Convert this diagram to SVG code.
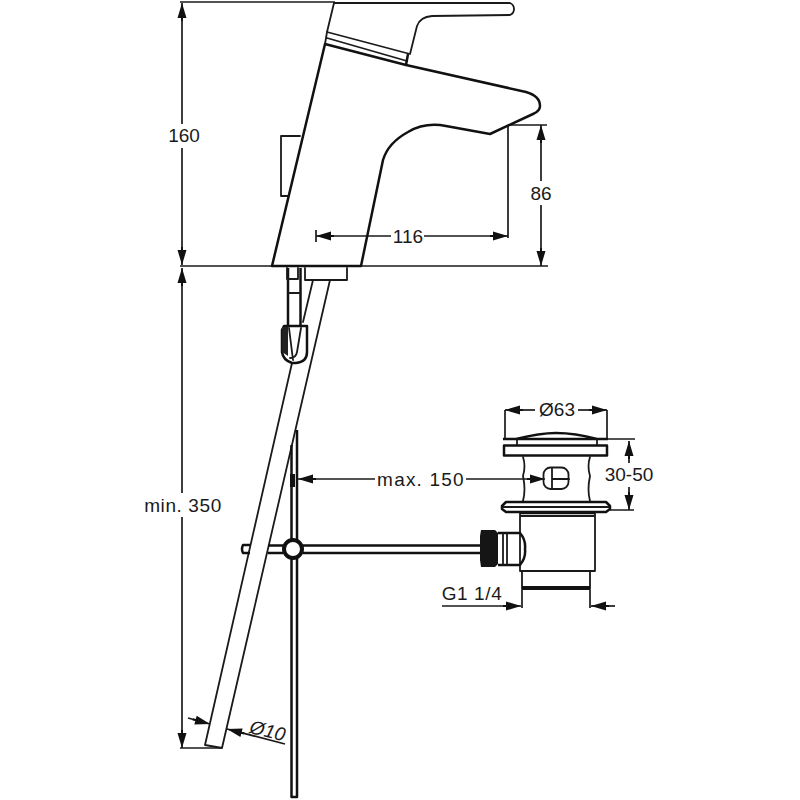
<svg xmlns="http://www.w3.org/2000/svg" width="800" height="800" viewBox="0 0 800 800">
<defs>
<style>
.l{fill:none;stroke:#1a1a1a;stroke-width:1.8;stroke-linejoin:round;stroke-linecap:round}
.t{fill:none;stroke:#111;stroke-width:2.5;stroke-linejoin:round}
.d{fill:none;stroke:#1a1a1a;stroke-width:1.7}
text{font-family:"Liberation Sans",Arial,sans-serif;font-size:19px;fill:#1a1a1a}
</style>
<marker id="a" markerUnits="userSpaceOnUse" markerWidth="18" markerHeight="10" refX="18" refY="5" orient="auto-start-reverse" viewBox="0 0 18 10"><path d="M18 5L3 0.500V4H0V6H3V9.500Z" fill="#111"/></marker>
</defs>
<rect width="800" height="800" fill="#fff"/>
<g id="connectors">
<path class="d" d="M180 2H335M180 266H548"/>
<path class="d" d="M182 3V124" marker-start="url(#a)"/>
<path class="d" d="M182 148V265" marker-end="url(#a)"/>
<path class="d" d="M182 268V493" marker-start="url(#a)"/>
<path class="d" d="M182 517V748" marker-end="url(#a)"/>
<path class="d" d="M180 748H222"/>
<path class="d" d="M316 230V242"/>
<path class="d" d="M316 236H391" marker-start="url(#a)"/>
<path class="d" d="M424 236H508" marker-end="url(#a)"/>
<path class="d" d="M508 125V238M508 125H547"/>
<path class="d" d="M541 125V181" marker-start="url(#a)"/>
<path class="d" d="M541 205V266" marker-end="url(#a)"/>
<path class="d" d="M375 479H298" marker-end="url(#a)"/>
<path class="d" d="M466 479H545" marker-end="url(#a)"/>
<path class="d" d="M505 440V410M607 440V410"/>
<path class="d" d="M535 410H505" marker-end="url(#a)"/>
<path class="d" d="M578 410H607" marker-end="url(#a)"/>
<path class="d" d="M607 439H635M610 510H634"/>
<path class="d" d="M629 441V463" marker-start="url(#a)"/>
<path class="d" d="M629 487V510" marker-end="url(#a)"/>
<path class="d" d="M442 606H521" marker-end="url(#a)"/>
<path class="d" d="M522 590V608M590 590V608"/>
<path class="d" d="M615 606H591" marker-end="url(#a)"/>
<path class="d" d="M188 718L210 724" marker-end="url(#a)"/>
<path class="d" d="M285 744L227 729" marker-end="url(#a)"/>
</g>
<g id="faucet">
<path class="l" d="M334 3H510A6.500 6.500 0 0 1 510 15L432 16Q420 17 417 26L410 54L327 32Z"/>
<path class="l" d="M327 32L325 44M327 38L407 61"/>
<path class="t" d="M408 54L406 65"/>
<path class="t" d="M325 44L406 65L526 92Q540 96 540 106Q540 111 533 114L490 134L446 126Q425 122 408 132Q388 143 383 160L361 266H272Z"/>
<path class="l" d="M300 136H281V196H289"/>
</g>
<g id="pipes">
<path class="t" d="M288 268V325M300.500 268V325"/>
<path class="l" d="M287 268V279H298V268M288 293H300M305 268V280H347V268"/>
<path class="l" d="M313 280L303 322M292 363L205 745L222 748L330 280"/>
<path class="t" d="M291.500 445V797H297V430"/>
<path d="M290 474H295V487H290Z" fill="#111"/>
<path class="t" d="M284 326H307V352Q307 362 296 363H292Q283 360 282 352V330Z"/>
<path d="M282 327H288V356L282 352Z" fill="#222"/>
<path class="l" d="M289 328L293 360M301 328L297 352Q296 358 290 358"/>
<path class="t" d="M250 545H243Q241 549 243 553H250M268 545.500H283M268 553H283M303 545.500H480M303 553H480"/>
<circle cx="293" cy="549" r="9" fill="#fff" stroke="#111" stroke-width="4"/>
</g>
<g id="drain">
<path class="t" d="M503 439H608M516 439Q540 433 556 433Q575 433 597 439"/>
<path class="l" d="M517 440V445M597 440V445"/>
<rect class="t" x="504" y="445.500" width="103" height="10"/>
<path class="l" d="M523 457Q526 466 523 476Q526 490 523 501M590 457Q587 466 590 476Q587 490 590 501"/>
<rect x="543.500" y="467.500" width="25" height="21.500" rx="7" class="l"/>
<path class="l" d="M552 468V489M552 479H569"/>
<path class="t" d="M506 502H606L610 506V509L606 512H506L502 509V506Z"/>
<path class="l" d="M503 507H609"/>
<path class="l" d="M520 513V571M595 513V571M520 516H595M520 571H595M522 571V589M590 571V589"/>
<path class="t" d="M520 513H595"/>
<path d="M522 586H590V590H522Z" fill="#111"/>
<path d="M481 530H495L498 533V564L495 567H481L480 560V536Z" fill="#151515"/>
<path class="t" d="M498 533H520Q526 540 525 549Q526 558 520 565H498"/>
<path class="l" d="M503 533V565M507 533V565"/>
</g>
<g id="labels">
<text x="184" y="142" text-anchor="middle">160</text>
<text x="408" y="243" text-anchor="middle">116</text>
<text x="541" y="200" text-anchor="middle">86</text>
<text x="183" y="512" text-anchor="middle" letter-spacing=".6">min. 350</text>
<text x="421" y="486" text-anchor="middle" letter-spacing="1.2">max. 150</text>
<text x="557" y="416" text-anchor="middle">Ø63</text>
<text x="629" y="481" text-anchor="middle">30-50</text>
<text x="472" y="600" text-anchor="middle" letter-spacing=".6">G1 1/4</text>
<text x="266" y="737" text-anchor="middle" font-style="italic" transform="rotate(14 266 737)">Ø10</text>
</g>
</svg>
